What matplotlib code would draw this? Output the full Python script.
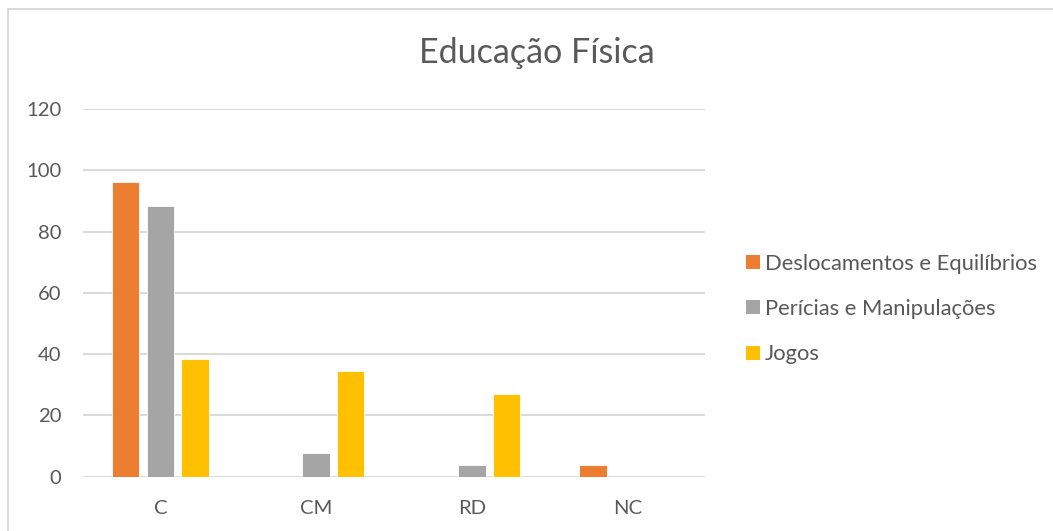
import matplotlib
matplotlib.use("Agg")
import matplotlib.pyplot as plt
import numpy as np
from matplotlib.lines import Line2D
from matplotlib.patches import Patch

categories = ["C", "CM", "RD", "NC"]
series_names = ["Deslocamentos e Equilíbrios", "Perícias e Manipulações", "Jogos"]
deslocamentos = [96.2, 0, 0, 3.8]
pericias = [88.5, 7.7, 3.8, 0]
jogos = [38.5, 34.6, 26.9, 0]
colors = ["#ED7D31", "#A5A5A5", "#FFC000"]
yticks = [0, 20, 40, 60, 80, 100, 120]

plt.rcParams['font.family'] = ['Lato', 'DejaVu Sans']
text_color = "#595959"

fig = plt.figure(figsize=(10.53, 5.31), dpi=100)
ax = fig.add_axes([82.5/1053, 1-476.7/531, (705.5-82.5)/1053, (476.7-109)/531])

x = np.arange(len(categories))
step = 0.223
width = 0.175
for i, (vals, name, c) in enumerate(zip([deslocamentos, pericias, jogos], series_names, colors)):
    ax.bar(x + (i-1)*step, vals, width, color=c, label=name, zorder=3,
           edgecolor='white', linewidth=0.6)

ax.set_xlim(-0.5, len(categories)-0.5)
ax.set_ylim(0, 120)
ax.set_yticks(yticks)
ax.set_xticks(x)
ax.set_xticklabels(categories)
ax.yaxis.grid(True, color="#D9D9D9", linewidth=1.4, zorder=0)
ax.set_axisbelow(True)
for s in ax.spines.values():
    s.set_visible(False)
ax.tick_params(axis='both', length=0, labelsize=14.6, colors=text_color)
ax.tick_params(axis='y', pad=21*0.72)
ax.tick_params(axis='x', pad=23*0.72)

fig.text(537/1053, 1-53/531, "Educação Física", ha='center', va='center',
         fontsize=24.5, color=text_color)

handles = [Patch(facecolor=c, edgecolor='none') for c in colors]
leg = fig.legend(handles, series_names, loc='center left',
                 bbox_to_anchor=(746/1053, 1-309/531), frameon=False,
                 fontsize=15.8, labelcolor=text_color, handlelength=0.62,
                 handleheight=0.62, handletextpad=0.25, labelspacing=1.16,
                 borderaxespad=0, borderpad=0)

# outer chart border (top and left visible)
fig.add_artist(Line2D([8/1053, 8/1053], [0, 1-9/531], transform=fig.transFigure,
                      color="#D9D9D9", linewidth=1.4))
fig.add_artist(Line2D([8/1053, 1], [1-9/531, 1-9/531], transform=fig.transFigure,
                      color="#D9D9D9", linewidth=1.4))

fig.savefig("out.png", dpi=100, facecolor='white')
